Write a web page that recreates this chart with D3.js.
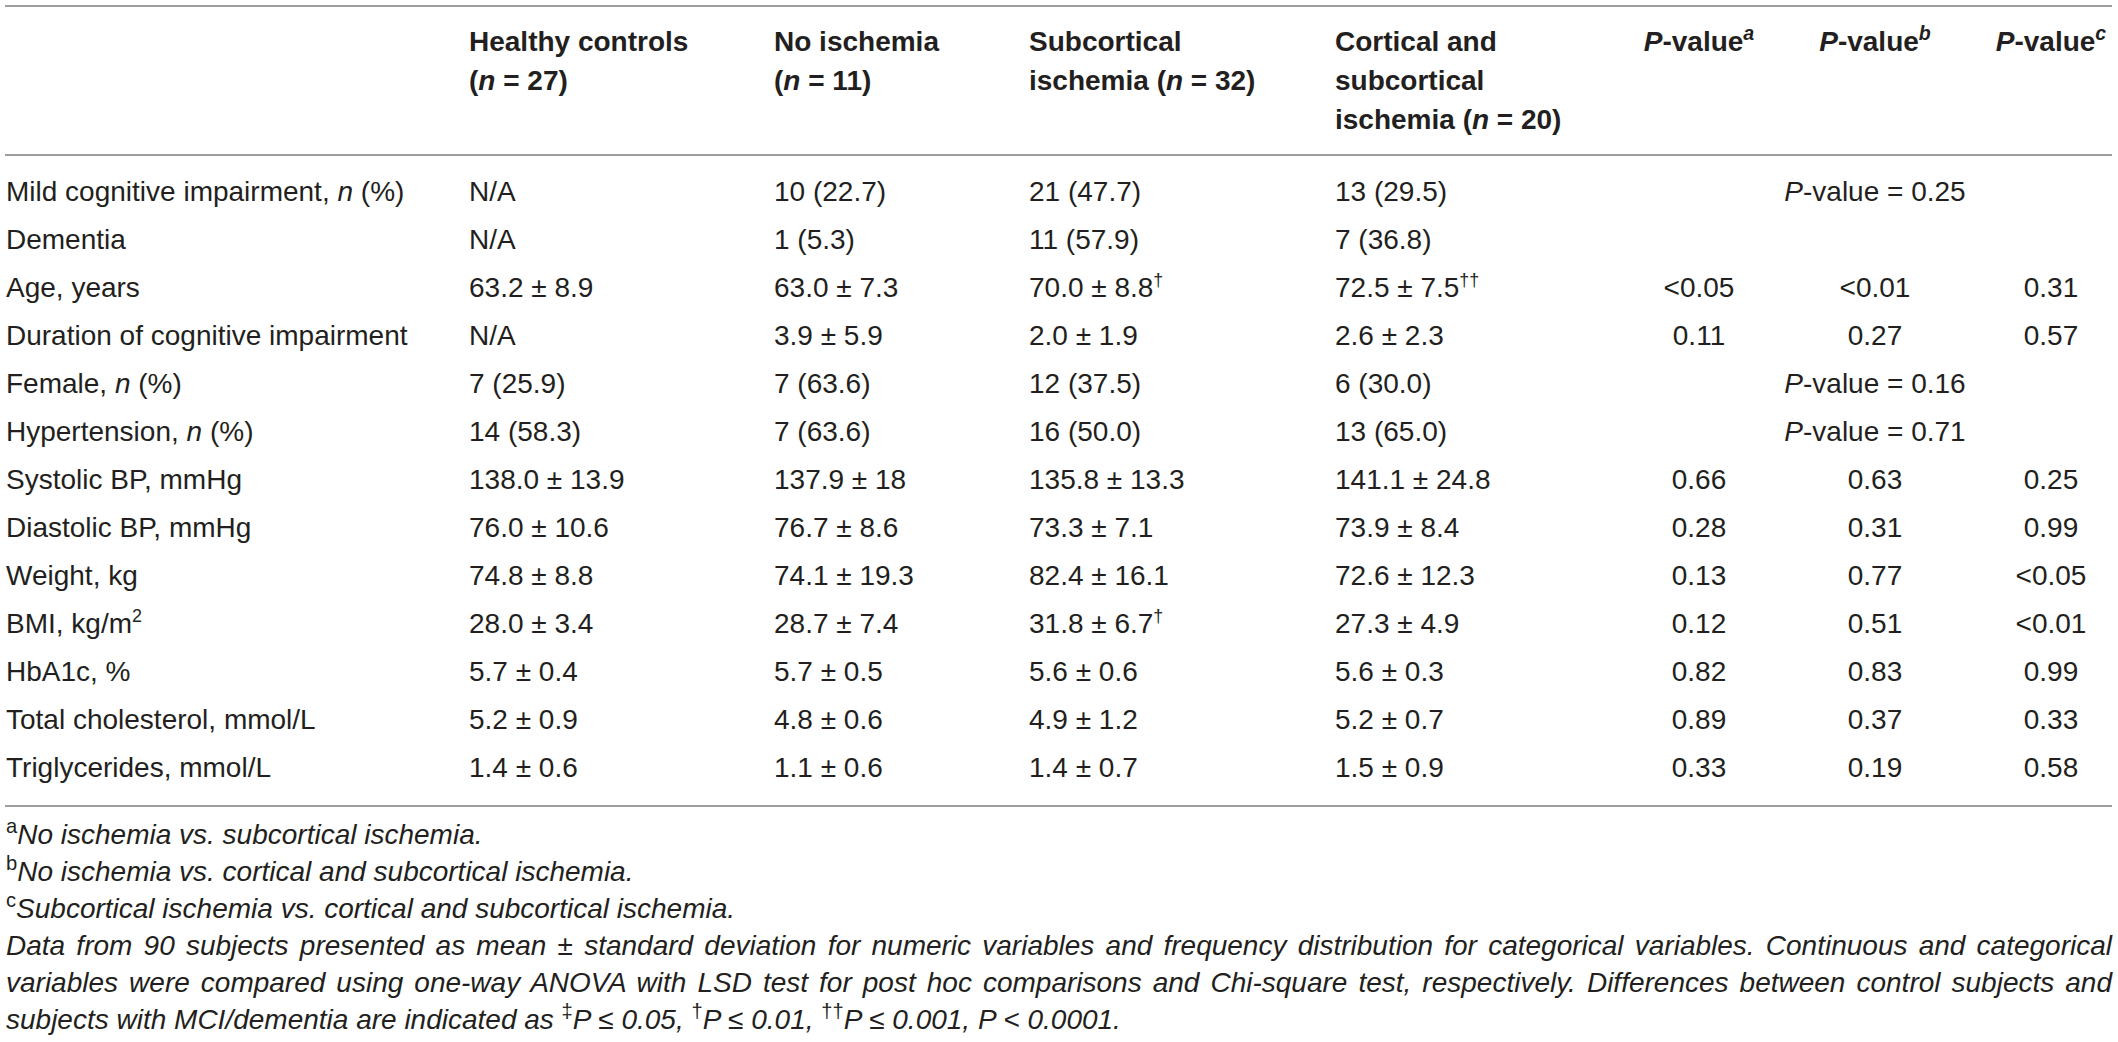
<!DOCTYPE html>
<html>
<head>
<meta charset="utf-8">
<script src="https://cdn.jsdelivr.net/npm/d3@7"></script>
<style>
  body { margin: 0; background: #fff; }
  text { font-family: "Liberation Sans", Arial, Helvetica, sans-serif; fill: #231f20; }
</style>
</head>
<body>
<script>
// *x* = italic, ^x^ = superscript
const headers = [
    ["Healthy controls", "(*n* = 27)"],
    ["No ischemia", "(*n* = 11)"],
    ["Subcortical", "ischemia (*n* = 32)"],
    ["Cortical and", "subcortical", "ischemia (*n* = 20)"],
    ["*P*-value^a^"],
    ["*P*-value^b^"],
    ["*P*-value^c^"]
];

const rowLabels = [
    "Mild cognitive impairment, *n* (%)",
    "Dementia",
    "Age, years",
    "Duration of cognitive impairment",
    "Female, *n* (%)",
    "Hypertension, *n* (%)",
    "Systolic BP, mmHg",
    "Diastolic BP, mmHg",
    "Weight, kg",
    "BMI, kg/m^2^",
    "HbA1c, %",
    "Total cholesterol, mmol/L",
    "Triglycerides, mmol/L"
];

const healthy = ["N/A", "N/A", "63.2 ± 8.9", "N/A", "7 (25.9)", "14 (58.3)", "138.0 ± 13.9",
    "76.0 ± 10.6", "74.8 ± 8.8", "28.0 ± 3.4", "5.7 ± 0.4", "5.2 ± 0.9", "1.4 ± 0.6"];
const noIschemia = ["10 (22.7)", "1 (5.3)", "63.0 ± 7.3", "3.9 ± 5.9", "7 (63.6)", "7 (63.6)", "137.9 ± 18",
    "76.7 ± 8.6", "74.1 ± 19.3", "28.7 ± 7.4", "5.7 ± 0.5", "4.8 ± 0.6", "1.1 ± 0.6"];
const subcortical = ["21 (47.7)", "11 (57.9)", "70.0 ± 8.8^†^", "2.0 ± 1.9", "12 (37.5)", "16 (50.0)", "135.8 ± 13.3",
    "73.3 ± 7.1", "82.4 ± 16.1", "31.8 ± 6.7^†^", "5.6 ± 0.6", "4.9 ± 1.2", "1.4 ± 0.7"];
const corticalSub = ["13 (29.5)", "7 (36.8)", "72.5 ± 7.5^††^", "2.6 ± 2.3", "6 (30.0)", "13 (65.0)", "141.1 ± 24.8",
    "73.9 ± 8.4", "72.6 ± 12.3", "27.3 ± 4.9", "5.6 ± 0.3", "5.2 ± 0.7", "1.5 ± 0.9"];
const pA = ["", "", "<0.05", "0.11", "", "", "0.66", "0.28", "0.13", "0.12", "0.82", "0.89", "0.33"];
const pB = ["", "", "<0.01", "0.27", "", "", "0.63", "0.31", "0.77", "0.51", "0.83", "0.37", "0.19"];
const pC = ["", "", "0.31", "0.57", "", "", "0.25", "0.99", "<0.05", "<0.01", "0.99", "0.33", "0.58"];
// chi-square p-values spanning the three p-value columns
const pMerged = ["*P*-value = 0.25", "", "", "", "*P*-value = 0.16", "*P*-value = 0.71", "", "", "", "", "", "", ""];

const footnotes = [
    "^a^No ischemia vs. subcortical ischemia.",
    "^b^No ischemia vs. cortical and subcortical ischemia.",
    "^c^Subcortical ischemia vs. cortical and subcortical ischemia.",
    "Data from 90 subjects presented as mean ± standard deviation for numeric variables and frequency distribution for categorical variables. Continuous and categorical",
    "variables were compared using one-way ANOVA with LSD test for post hoc comparisons and Chi-square test, respectively. Differences between control subjects and",
    "subjects with MCI/dementia are indicated as ^‡^P ≤ 0.05, ^†^P ≤ 0.01, ^††^P ≤ 0.001, P < 0.0001."
];
const justified = [false, false, false, true, true, false];

const width = 2118, height = 1042;
const fontSize = 28;
const left = 6, right = 2112;

const svg = d3.select("body").append("svg")
    .attr("width", width)
    .attr("height", height);

const colKeys = ["label", "healthy", "noIsch", "subcort", "cortSub", "pA", "pB", "pC"];
const x = d3.scaleOrdinal()
    .domain(colKeys)
    .range([left, 469, 774, 1029, 1335, 1699, 1875, 2051]);

const y = d3.scalePoint()
    .domain(d3.range(rowLabels.length))
    .range([201, 777]);

const headerY = d3.scaleLinear().domain([0, 2]).range([51, 129]);
const footY = d3.scaleLinear().domain([0, footnotes.length - 1]).range([844, 1029]);

// writes a string with *italic* and ^superscript^ parts into a text element
function rich(sel, str, opts = {}) {
    const parts = str.split(/(\*[^*]+\*|\^[^^]+\^)/).filter(s => s.length);
    let raised = false;
    const supSize = opts.supSize || 0.64;
    parts.forEach(p => {
        const t = sel.append("tspan");
        if (p.startsWith("^")) {
            t.text(p.slice(1, -1))
                .attr("font-size", fontSize * supSize)
                .attr("dy", -fontSize * 0.38);
            if (opts.supStyle) t.attr("font-style", opts.supStyle);
            raised = true;
        } else {
            if (p.startsWith("*")) {
                t.text(p.slice(1, -1)).attr("font-style", "italic");
            } else {
                t.text(p);
            }
            if (raised) { t.attr("dy", fontSize * 0.38); raised = false; }
        }
    });
}

// rules
const ruleY = [6, 155, 806];
svg.selectAll("line.rule")
    .data(ruleY)
    .enter().append("line")
    .attr("class", "rule")
    .attr("x1", left - 1)
    .attr("x2", right)
    .attr("y1", d => d)
    .attr("y2", d => d)
    .attr("stroke", "#9d9d9d")
    .attr("stroke-width", 2);

// header
const headCols = colKeys.slice(1);
headers.forEach((lines, ci) => {
    const key = headCols[ci];
    const isP = key.startsWith("p");
    lines.forEach((ln, li) => {
        const t = svg.append("text")
            .attr("x", x(key))
            .attr("y", headerY(li))
            .attr("font-size", fontSize)
            .attr("font-weight", "bold")
            .attr("text-anchor", isP ? "middle" : "start");
        rich(t, ln, { supStyle: "italic", supSize: 0.7 });
    });
});

// body
const columns = [
    { key: "label", values: rowLabels },
    { key: "healthy", values: healthy },
    { key: "noIsch", values: noIschemia },
    { key: "subcort", values: subcortical },
    { key: "cortSub", values: corticalSub },
    { key: "pA", values: pA },
    { key: "pB", values: pB },
    { key: "pC", values: pC }
];

columns.forEach(col => {
    const isP = col.key.startsWith("p");
    svg.append("g").selectAll("text")
        .data(col.values.map((v, i) => ({ v, i })).filter(d => d.v !== ""))
        .enter().append("text")
        .attr("x", x(col.key))
        .attr("y", d => y(d.i))
        .attr("font-size", fontSize)
        .attr("text-anchor", isP ? "middle" : "start")
        .each(function (d) { rich(d3.select(this), d.v); });
});

svg.append("g").selectAll("text")
    .data(pMerged.map((v, i) => ({ v, i })).filter(d => d.v !== ""))
    .enter().append("text")
    .attr("x", x("pB"))
    .attr("y", d => y(d.i))
    .attr("font-size", fontSize)
    .attr("text-anchor", "middle")
    .each(function (d) { rich(d3.select(this), d.v); });

// footnotes
footnotes.forEach((fn, i) => {
    const t = svg.append("text")
        .attr("x", left)
        .attr("y", footY(i))
        .attr("font-size", fontSize)
        .attr("font-style", "italic");
    rich(t, fn, { supStyle: "normal", supSize: 0.72 });
    if (justified[i]) {
        const len = t.node().getComputedTextLength();
        const gaps = (fn.match(/ /g) || []).length;
        t.attr("word-spacing", (right - left - len) / gaps);
    }
});
</script>
</body>
</html>
